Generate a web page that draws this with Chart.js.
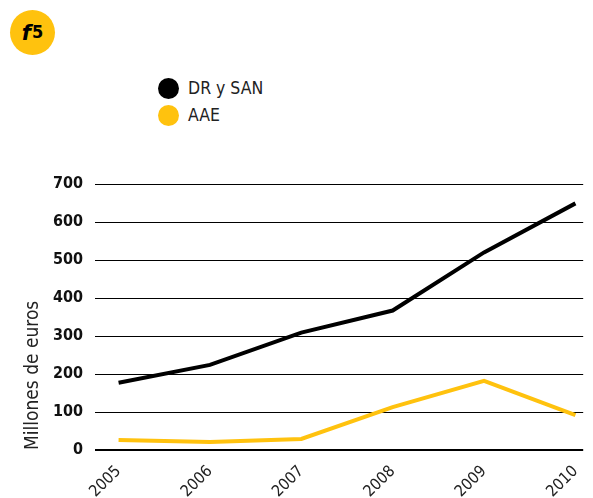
<!DOCTYPE html>
<html>
<head>
<meta charset="utf-8">
<script src="https://cdn.jsdelivr.net/npm/chart.js@4"></script>
<style>
  html, body { margin: 0; padding: 0; background: #fff; }
  body { width: 593px; height: 498px; position: relative; overflow: hidden; font-family: "DejaVu Sans Condensed", "DejaVu Sans", sans-serif; }
  .badge { position: absolute; left: 10px; top: 10px; width: 45px; height: 45px; border-radius: 50%; background: #FFC20E; color: #000; text-align: center; line-height: 47px; font-weight: bold; font-size: 21px; }
  .badge i { font-family: "DejaVu Sans", sans-serif; margin-right: 1px; }
  .badge b { font-size: 18px; position: relative; top: -2px; }
  .legend { position: absolute; left: 158px; top: 76px; }
  .legend div { height: 27px; line-height: 24px; font-size: 17.5px; color: #222; }
  .legend span { display: inline-block; width: 21px; height: 21px; border-radius: 50%; vertical-align: -5px; margin-right: 9px; }
  #wrap { position: absolute; left: 0; top: 160px; width: 593px; height: 338px; }
</style>
</head>
<body>
<div class="badge"><i>f</i><b>5</b></div>
<div class="legend" id="legend"></div>
<div id="wrap"><canvas id="chart"></canvas></div>
<script>
const years = [2005, 2006, 2007, 2008, 2009, 2010];
const drySan = [177, 224, 309, 367, 520, 649];
const aae = [26, 21, 29, 113, 182, 92];
const yTicks = [0, 100, 200, 300, 400, 500, 600, 700];
const seriesNames = ['DR y SAN', 'AAE'];
const seriesColors = ['#000000', '#FFC20E'];

// leyenda
const legend = document.getElementById('legend');
seriesNames.forEach((name, i) => {
    const row = document.createElement('div');
    row.innerHTML = '<span style="background:' + seriesColors[i] + '"></span>' + name;
    legend.appendChild(row);
});

const toPoints = (vals) => years.map((y, i) => ({ x: y, y: vals[i] }));
const fontFam = '"DejaVu Sans Condensed", "DejaVu Sans", sans-serif';

new Chart(document.getElementById('chart'), {
    type: 'line',
    data: {
        datasets: [
            { label: seriesNames[0], data: toPoints(drySan), borderColor: seriesColors[0], borderWidth: 4, pointRadius: 0, tension: 0 },
            { label: seriesNames[1], data: toPoints(aae), borderColor: seriesColors[1], borderWidth: 4, pointRadius: 0, tension: 0 }
        ]
    },
    options: {
        responsive: true,
        maintainAspectRatio: false,
        animation: false,
        layout: { padding: { top: 24, right: 0, left: 0, bottom: 0 } },
        plugins: { legend: { display: false }, tooltip: { enabled: false } },
        scales: {
            x: {
                type: 'linear',
                min: 2004.742,
                max: 2010.085,
                afterBuildTicks: (scale) => { scale.ticks = years.map(v => ({ value: v })); },
                afterFit: (scale) => { scale.height = 48; },
                grid: { display: false },
                border: { display: false },
                ticks: {
                    minRotation: 45, maxRotation: 45, padding: 4,
                    color: '#222',
                    font: { family: fontFam, size: 16 },
                    callback: (v) => String(v)
                }
            },
            y: {
                min: 0,
                max: 700,
                afterBuildTicks: (scale) => { scale.ticks = yTicks.map(v => ({ value: v })); },
                afterFit: (scale) => { scale.width = 95; },
                grid: {
                    color: '#000',
                    lineWidth: (c) => (c.tick && c.tick.value === 0 ? 2 : 1),
                    drawTicks: false
                },
                border: { display: false },
                ticks: {
                    padding: 12,
                    color: '#111',
                    font: { family: fontFam, size: 16, weight: 'bold' }
                },
                title: {
                    display: true,
                    text: 'Millones de euros',
                    align: 'start',
                    color: '#222',
                    font: { family: fontFam, size: 19 },
                    padding: { top: 22, bottom: 0 }
                }
            }
        }
    }
});
</script>
</body>
</html>
